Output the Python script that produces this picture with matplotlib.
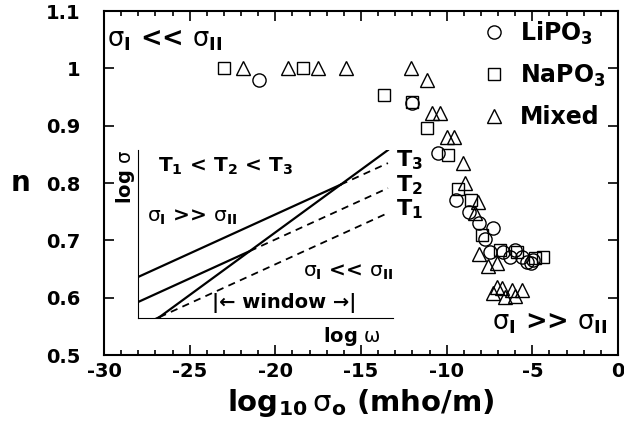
import matplotlib
matplotlib.use('Agg')
import matplotlib.pyplot as plt
import numpy as np

plt.rcParams['font.family'] = ['DejaVu Sans']
plt.rcParams['font.weight'] = 'bold'
plt.rcParams['axes.labelweight'] = 'bold'
plt.rcParams['axes.unicode_minus'] = False
plt.rcParams['mathtext.fontset'] = 'custom'
plt.rcParams['mathtext.rm'] = 'DejaVu Sans:weight=normal'
plt.rcParams['mathtext.bf'] = 'DejaVu Sans:weight=bold'
plt.rcParams['mathtext.default'] = 'rm'

#Data
li_x = [-20.95, -12.0, -10.5, -9.45, -8.7, -8.1, -7.3, -7.76, -7.47, -6.7,
        -6.3, -6.0, -5.6, -5.3, -4.96, -5.1]
li_n = [0.98, 0.94, 0.852, 0.77, 0.75, 0.73, 0.721, 0.702, 0.68, 0.68,
        0.671, 0.683, 0.671, 0.662, 0.666, 0.66]

na_x = [-23.0, -18.4, -13.65, -12.0, -11.15, -9.9, -9.33, -8.6, -7.93, -6.9,
        -5.9, -4.84, -4.37]
na_n = [1.0, 1.0, 0.953, 0.942, 0.896, 0.849, 0.79, 0.77, 0.709, 0.683,
        0.68, 0.669, 0.671]

mix_x = [-21.9, -19.25, -17.5, -15.9, -12.1, -11.15, -10.85, -10.4, -10.0, -9.57,
         -9.04, -8.93, -8.2, -8.35, -8.1, -7.6, -7.05, -7.05, -7.3, -6.76,
         -6.6, -6.2, -6.0, -5.6]
mix_n = [1.0, 1.0, 1.0, 1.0, 1.0, 0.98, 0.922, 0.922, 0.88, 0.88,
         0.835, 0.80, 0.767, 0.747, 0.676, 0.655, 0.66, 0.618, 0.608, 0.617,
         0.601, 0.613, 0.603, 0.613]

xticks = [-30, -25, -20, -15, -10, -5, 0]
yticks = [0.5, 0.6, 0.7, 0.8, 0.9, 1.0, 1.1]
ytick_labels = ['0.5', '0.6', '0.7', '0.8', '0.9', '1', '1.1']

#Inset schematic: log sigma vs log omega (arbitrary units)
t_names = ['T$_{\\mathbf{1}}$', 'T$_{\\mathbf{2}}$', 'T$_{\\mathbf{3}}$']
t_intercepts = [-0.053, 0.095, 0.244]
t_slope = 0.692
steep_slope = 1.11
steep_intercept = -0.088
w_end = 0.98

fig = plt.figure(figsize=(6.24, 4.37), dpi=100)
ax = fig.add_axes([0.1667, 0.1876, 0.8237, 0.7872])

ms = 9.5
ax.plot(li_x, li_n, 'o', mfc='none', mec='black', ms=ms, mew=1.0, label='LiPO$_{\\mathbf{3}}$')
ax.plot(na_x, na_n, 's', mfc='none', mec='black', ms=ms - 0.5, mew=1.0, label='NaPO$_{\\mathbf{3}}$')
ax.plot(mix_x, mix_n, '^', mfc='none', mec='black', ms=ms, mew=1.0, label='Mixed')

ax.set_xlim(-30, 0)
ax.set_ylim(0.5, 1.1)
ax.set_xticks(xticks)
ax.set_xticks(np.arange(-30, 1, 1), minor=True)
ax.set_yticks(yticks)
ax.set_yticklabels(ytick_labels)
ax.tick_params(which='both', direction='in', top=True, right=True, labelsize=14, width=1.2)
ax.tick_params(which='major', length=7)
ax.tick_params(which='minor', length=3.5)
ax.tick_params(axis='x', pad=5)
ax.tick_params(axis='y', pad=17)
for sp in ax.spines.values():
    sp.set_linewidth(1.5)

ax.set_xlabel('log$_{\\mathbf{10}}\\,\\sigma_{\\mathbf{o}}$ (mho/m)', fontsize=21, labelpad=4)
ax.set_ylabel('n', fontsize=20, rotation=0, labelpad=18, va='center')

ax.text(-29.8, 1.05, '$\\sigma_{\\mathbf{I}}$ << $\\sigma_{\\mathbf{II}}$', fontsize=18.5, va='center')
ax.text(-7.35, 0.555, '$\\sigma_{\\mathbf{I}}$ >> $\\sigma_{\\mathbf{II}}$', fontsize=18.5, va='center')

ax.legend(loc='upper left', bbox_to_anchor=(0.705, 1.02), frameon=False, fontsize=17,
          handlelength=1.0, handletextpad=0.6, labelspacing=0.68, borderpad=0.15)

#Inset
ins = fig.add_axes([0.2212, 0.2723, 0.4087, 0.3844])
ins.patch.set_alpha(0)
ins.set_xlim(0, 1)
ins.set_ylim(0, 1)
ins.spines['top'].set_visible(False)
ins.spines['right'].set_visible(False)
ins.set_xticks([])
ins.set_yticks([])

u = np.linspace(0, w_end, 200)
ins.plot(u, steep_slope * u + steep_intercept, color='black', lw=1.6)
for b in t_intercepts:
    u_cross = (b - steep_intercept) / (steep_slope - t_slope)
    u1 = np.linspace(0, u_cross, 50)
    u2 = np.linspace(u_cross, w_end, 50)
    ins.plot(u1, t_slope * u1 + b, color='black', lw=1.6)
    ins.plot(u2, t_slope * u2 + b, color='black', lw=1.3, ls=(0, (4, 3)))

for name, b in zip(t_names, t_intercepts):
    ins.text(1.01, t_slope * w_end + b + 0.02, name, fontsize=16, va='center', clip_on=False)

ins.text(0.08, 0.9, 'T$_{\\mathbf{1}}$ < T$_{\\mathbf{2}}$ < T$_{\\mathbf{3}}$', fontsize=14.5, va='center')
ins.text(0.035, 0.6, '$\\sigma_{\\mathbf{I}}$ >> $\\sigma_{\\mathbf{II}}$', fontsize=14.5, va='center')
ins.text(0.645, 0.27, '$\\sigma_{\\mathbf{I}}$ << $\\sigma_{\\mathbf{II}}$', fontsize=14.5, va='center')
ins.text(0.29, 0.09, '|\u2190 window \u2192|', fontsize=14, va='center')
ins.text(0.84, -0.11, 'log $\\omega$', fontsize=14, ha='center', va='center', clip_on=False)
ins.text(-0.05, 0.84, 'log $\\sigma$', fontsize=14, ha='center', va='center', rotation=90, clip_on=False)

fig.savefig('out.png', dpi=100)
